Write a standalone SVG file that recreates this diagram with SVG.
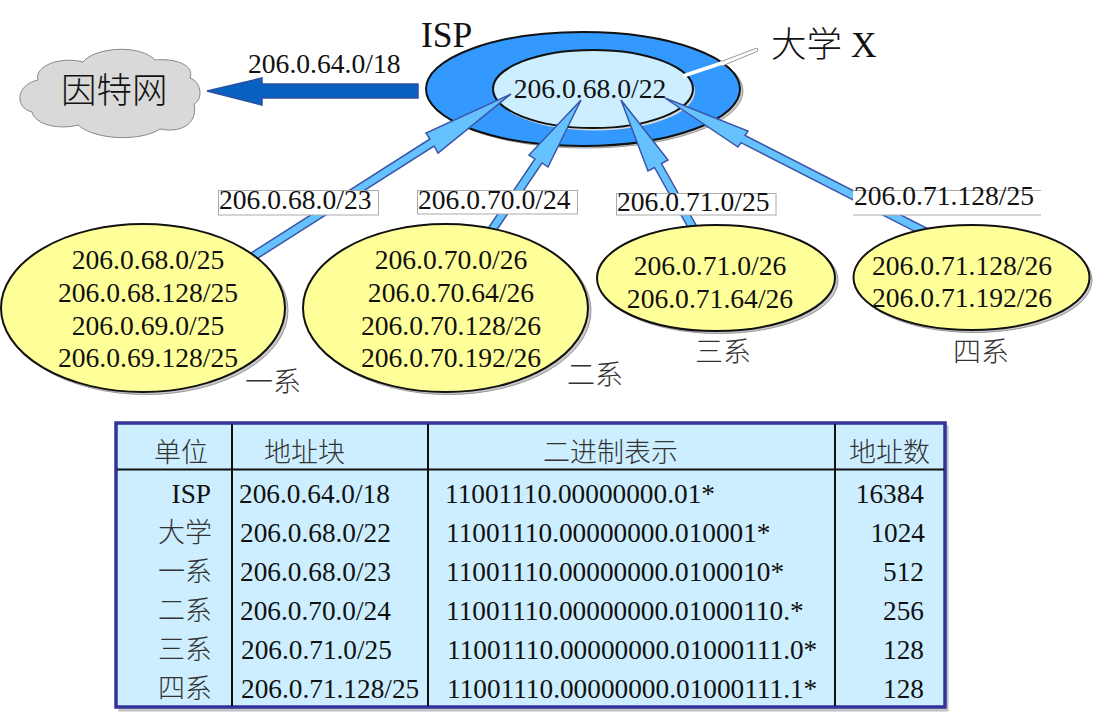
<svg xmlns="http://www.w3.org/2000/svg" width="1094" height="722" viewBox="0 0 1094 722">
<style>
text{font-family:"Liberation Serif","Noto Sans CJK SC",serif;font-size:27.600px;fill:#111}
#table text:not(.cjk){font-size:27.300px}
.big{font-size:35.500px;font-weight:300}
.cjk{font-size:27px;fill:#333;font-weight:300}
.dept{font-size:28px}
.m{text-anchor:middle}
.r{text-anchor:end}
.shadow{fill:#c8c8c8;stroke:#999;stroke-width:1}
.yellow{fill:#ffff99;stroke:#111;stroke-width:2}
.arrow{fill:#66c2ff;stroke:#3a55a8;stroke-width:1.5;stroke-linejoin:miter}
.box{fill:#fff;stroke:#aaa;stroke-width:1}
.rule{stroke:#111;stroke-width:2;fill:none}
</style>
<g id="connectors">
<polygon id="to-internet" points="207,91 262,78 262,84 418,84 418,98 262,98 262,105" fill="#0860c0" stroke="#2d4fa0" stroke-width="1.500"/>
<text x="248" y="73">206.0.64.0/18</text>
</g>
<g id="internet">
<path d="M38 80C34 66 60 56 83 62C95 47 140 44 155 60C175 58 195 65 190 78C202 82 203 100 194 104C198 120 185 134 160 129C140 142 95 140 78 125C60 130 35 125 32 112C15 108 15 85 38 80Z" fill="#d9d9d9" stroke="#888" stroke-width="1"/>
<text class="big" x="61" y="103">因特网</text>
</g>
<g id="isp">
<ellipse class="shadow" cx="586" cy="91" rx="157" ry="57"/>
<ellipse cx="583" cy="89" rx="157" ry="57" fill="#3399ff" stroke="#111" stroke-width="2"/>
<text class="big" x="421" y="47">ISP</text>
</g>
<g id="university">
<ellipse cx="595" cy="91.500" rx="100" ry="39" fill="#d8d8d8"/>
<ellipse cx="593" cy="89" rx="100" ry="39" fill="#cceeff" stroke="#111" stroke-width="2"/>
<polygon points="720,62 757,48 758,51 722,66" fill="#fff" stroke="#999" stroke-width="1"/>
<line x1="683" y1="76" x2="722" y2="63" stroke="#fff" stroke-width="3.500"/>
<text class="big" x="771" y="57">大学 X</text>
<text class="m" x="590" y="98">206.0.68.0/22</text>
</g>
<g id="links">
<polygon class="arrow" points="511,94 438,153 434,146 244,267 240,260 430,139 426,133"/>
<polygon class="arrow" points="581,100 529,155 535,159 487,230 494,234 542,163 548,167"/>
<polygon class="arrow" points="621,100 668,160 661.500,163.500 696.500,226 689.500,230 654.500,167.500 648,171"/>
<polygon class="arrow" points="665,98 748,131 745,135.400 927,228.400 923,235.600 741,142.600 738,147"/>
</g>
<g id="label-dept1"><rect class="box" x="218.500" y="190.500" width="160" height="24.500"/><text x="219" y="209">206.0.68.0/23</text></g>
<g id="label-dept2"><rect class="box" x="417.500" y="190.500" width="160" height="23.500"/><text x="418" y="209">206.0.70.0/24</text></g>
<g id="label-dept3"><rect class="box" x="616.500" y="193.500" width="159.500" height="21.500"/><text x="617" y="211">206.0.71.0/25</text></g>
<g id="label-dept4"><rect x="853" y="190" width="188" height="25" fill="#fff"/><path d="M853 190.500H1041M853 215H1041" stroke="#aaa" fill="none"/><text x="854" y="205">206.0.71.128/25</text></g>
<g id="dept1">
<ellipse class="shadow" cx="146" cy="310.500" rx="142" ry="84"/>
<ellipse class="yellow" cx="143" cy="308" rx="142" ry="84"/>
<text class="m" x="148" y="269">206.0.68.0/25</text>
<text class="m" x="148" y="302">206.0.68.128/25</text>
<text class="m" x="148" y="335">206.0.69.0/25</text>
<text class="m" x="148" y="367">206.0.69.128/25</text>
<text class="cjk dept" x="245" y="392">一系</text>
</g>
<g id="dept2">
<ellipse class="shadow" cx="448.500" cy="310.500" rx="142.500" ry="84"/>
<ellipse class="yellow" cx="445.500" cy="308" rx="142.500" ry="84"/>
<text class="m" x="451" y="269">206.0.70.0/26</text>
<text class="m" x="451" y="302">206.0.70.64/26</text>
<text class="m" x="451" y="335">206.0.70.128/26</text>
<text class="m" x="451" y="367">206.0.70.192/26</text>
<text class="cjk dept" x="567" y="385">二系</text>
</g>
<g id="dept3">
<ellipse class="shadow" cx="719" cy="280.500" rx="119" ry="53"/>
<ellipse class="yellow" cx="716" cy="278" rx="119" ry="53"/>
<text class="m" x="710" y="275">206.0.71.0/26</text>
<text class="m" x="710" y="308">206.0.71.64/26</text>
<text class="cjk dept" x="695" y="362">三系</text>
</g>
<g id="dept4">
<ellipse class="shadow" cx="974" cy="280" rx="118" ry="52.500"/>
<ellipse class="yellow" cx="971.500" cy="277.500" rx="118" ry="52.500"/>
<text class="m" x="962" y="275">206.0.71.128/26</text>
<text class="m" x="962" y="307">206.0.71.192/26</text>
<text class="cjk dept" x="953" y="362">四系</text>
</g>
<g id="table">
<rect x="119" y="426" width="829" height="285" fill="#c8c8c8" stroke="#bbb"/>
<rect x="116" y="423" width="829" height="284" fill="#cceeff" stroke="#333399" stroke-width="3.500"/>
<path class="rule" d="M232 424V706M428 424V706M835 424V706M117 469.500H944"/>
<text class="cjk" x="154" y="462">单位</text>
<text class="cjk" x="264" y="462">地址块</text>
<text class="cjk" x="543" y="462">二进制表示</text>
<text class="cjk" x="849" y="462">地址数</text>
<text class="r" x="211" y="503">ISP</text>
<text class="cjk r" x="212" y="542">大学</text>
<text class="cjk r" x="212" y="581">一系</text>
<text class="cjk r" x="212" y="620">二系</text>
<text class="cjk r" x="212" y="659">三系</text>
<text class="cjk r" x="212" y="698">四系</text>
<text x="239" y="503">206.0.64.0/18</text>
<text x="240" y="542">206.0.68.0/22</text>
<text x="240" y="581">206.0.68.0/23</text>
<text x="240" y="620">206.0.70.0/24</text>
<text x="241" y="659">206.0.71.0/25</text>
<text x="241" y="698">206.0.71.128/25</text>
<text x="445" y="503">11001110.00000000.01*</text>
<text x="446" y="542">11001110.00000000.010001*</text>
<text x="446" y="581">11001110.00000000.0100010*</text>
<text x="446" y="620">11001110.00000000.01000110.*</text>
<text x="447" y="659">11001110.00000000.01000111.0*</text>
<text x="447" y="698">11001110.00000000.01000111.1*</text>
<text class="r" x="924" y="503">16384</text>
<text class="r" x="925" y="542">1024</text>
<text class="r" x="924" y="581">512</text>
<text class="r" x="924" y="620">256</text>
<text class="r" x="924" y="659">128</text>
<text class="r" x="924" y="698">128</text>
</g>
</svg>
